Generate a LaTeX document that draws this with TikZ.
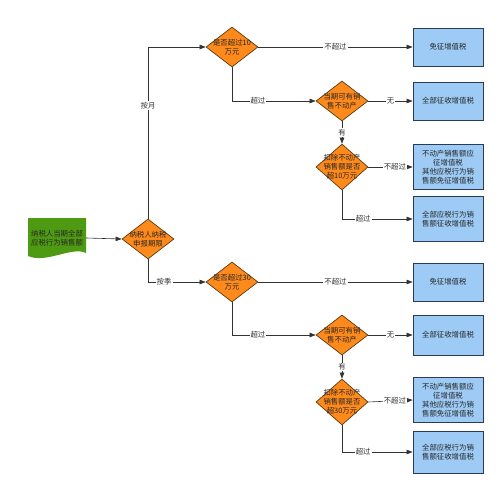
\documentclass[tikz,border=0pt]{standalone}
\usepackage{fontspec}
\newfontfamily\cjk{Noto Sans CJK SC}
\usetikzlibrary{positioning,arrows.meta,shapes.geometric,backgrounds}
\definecolor{decfill}{HTML}{FF8A1C}
\definecolor{decline}{HTML}{5A3A10}
\definecolor{resfill}{HTML}{9DCBF5}
\definecolor{resline}{HTML}{2B3A55}
\definecolor{srcfill}{HTML}{4E9A12}
\definecolor{flowline}{HTML}{333333}
\begin{document}
\begin{tikzpicture}[
  x=1pt, y=-1pt, font=\cjk\fontsize{7.4}{9}\selectfont,
  dec/.style={diamond, draw=decline, fill=decfill, line width=0.7pt,
              minimum width=52pt, minimum height=40pt, inner sep=0pt},
  dectall/.style={dec, minimum height=46pt},
  dtxt/.style={align=center, inner sep=0pt, text=black!85},
  res/.style={draw=resline, fill=resfill, line width=0.8pt, align=center,
              minimum width=70pt, minimum height=38pt, inner sep=2pt, text=black!85},
  restall/.style={res, minimum height=45pt},
  srcbox/.style={align=center, minimum width=58pt, minimum height=40pt,
                 inner sep=1pt, text=black!85},
  fl/.style={-{Triangle[length=6pt,width=4.5pt]}, line width=0.6pt, draw=flowline},
  lbl/.style={fill=white, inner sep=1pt, text=black!80},
]
\fill[white] (0,0) rectangle (500,492);
\useasboundingbox (0,0) rectangle (500,492);

% source and period
\fill[srcfill] (28,218) -- (86,218) -- (86,253)
  .. controls (72,246) and (46,264) .. (28,256) -- cycle;
\node[srcbox] (src) at (57,238) {纳税人当期全部\\应税行为销售额};
\node[dec] (d0) at (148,239) {};
\node[dtxt] (d0t) at (d0) {纳税人纳税\\申报期限};

% monthly branch
\node[dec] (m10) at (232,47) {};
\node[dtxt] (m10t) at (m10) {是否超过10\\万元};
\node[res] (m10r) at (448,47) {免征增值税};
\node[dec] (m10a) at (342,101) {};
\node[dtxt] (m10at) at (m10a) {当期可有销\\售不动产};
\node[res] (m10ar) at (448,101) {全部征收增值税};
\node[dectall] (m10b) at (342,167) {};
\node[dtxt] (m10bt) at (m10b) {扣除不动产\\销售额是否\\超10万元};
\node[restall] (m10br) at (448,167) {不动产销售额应\\征增值税\\其他应税行为销\\售额免征增值税};
\node[restall] (m10cr) at (448,219) {全部应税行为销\\售额征收增值税};

% quarterly branch
\node[dec] (q30) at (232,282) {};
\node[dtxt] (q30t) at (q30) {是否超过30\\万元};
\node[res] (q30r) at (448,282) {免征增值税};
\node[dec] (q30a) at (342,335) {};
\node[dtxt] (q30at) at (q30a) {当期可有销\\售不动产};
\node[res, minimum height=40pt] (q30ar) at (448,335) {全部征收增值税};
\node[dectall] (q30b) at (342,402) {};
\node[dtxt] (q30bt) at (q30b) {扣除不动产\\销售额是否\\超30万元};
\node[restall] (q30br) at (448,400) {不动产销售额应\\征增值税\\其他应税行为销\\售额免征增值税};
\node[res, minimum height=42pt] (q30cr) at (448,452) {全部应税行为销\\售额征收增值税};

\draw[fl] (src.east) -- (d0.west);
\draw[fl] (d0.north) |- node[lbl, pos=0.33] {按月} (m10.west);
\draw[fl] (d0.south) |- node[lbl, pos=0.64] {按季} (q30.west);

\draw[fl] (m10.east) -- node[lbl] {不超过} (m10r.west);
\draw[fl] (m10.south) |- node[lbl, pos=0.655] {超过} (m10a.west);
\draw[fl] (m10a.east) -- node[lbl] {无} (m10ar.west);
\draw[fl] (m10a.south) -- node[lbl] {有} (m10b.north);
\draw[fl] (m10b.east) -- node[lbl, pos=0.6] {不超过} (m10br.west);
\draw[fl] (m10b.south) |- node[lbl, pos=0.65] {超过} (m10cr.west);

\draw[fl] (q30.east) -- node[lbl] {不超过} (q30r.west);
\draw[fl] (q30.south) |- node[lbl, pos=0.655] {超过} (q30a.west);
\draw[fl] (q30a.east) -- node[lbl] {无} (q30ar.west);
\draw[fl] (q30a.south) -- node[lbl] {有} (q30b.north);
\draw[fl] (q30b.east) -- node[lbl, pos=0.6] {不超过} (q30br.west);
\draw[fl] (q30b.south) |- node[lbl, pos=0.65] {超过} (q30cr.west);
\end{tikzpicture}
\end{document}
